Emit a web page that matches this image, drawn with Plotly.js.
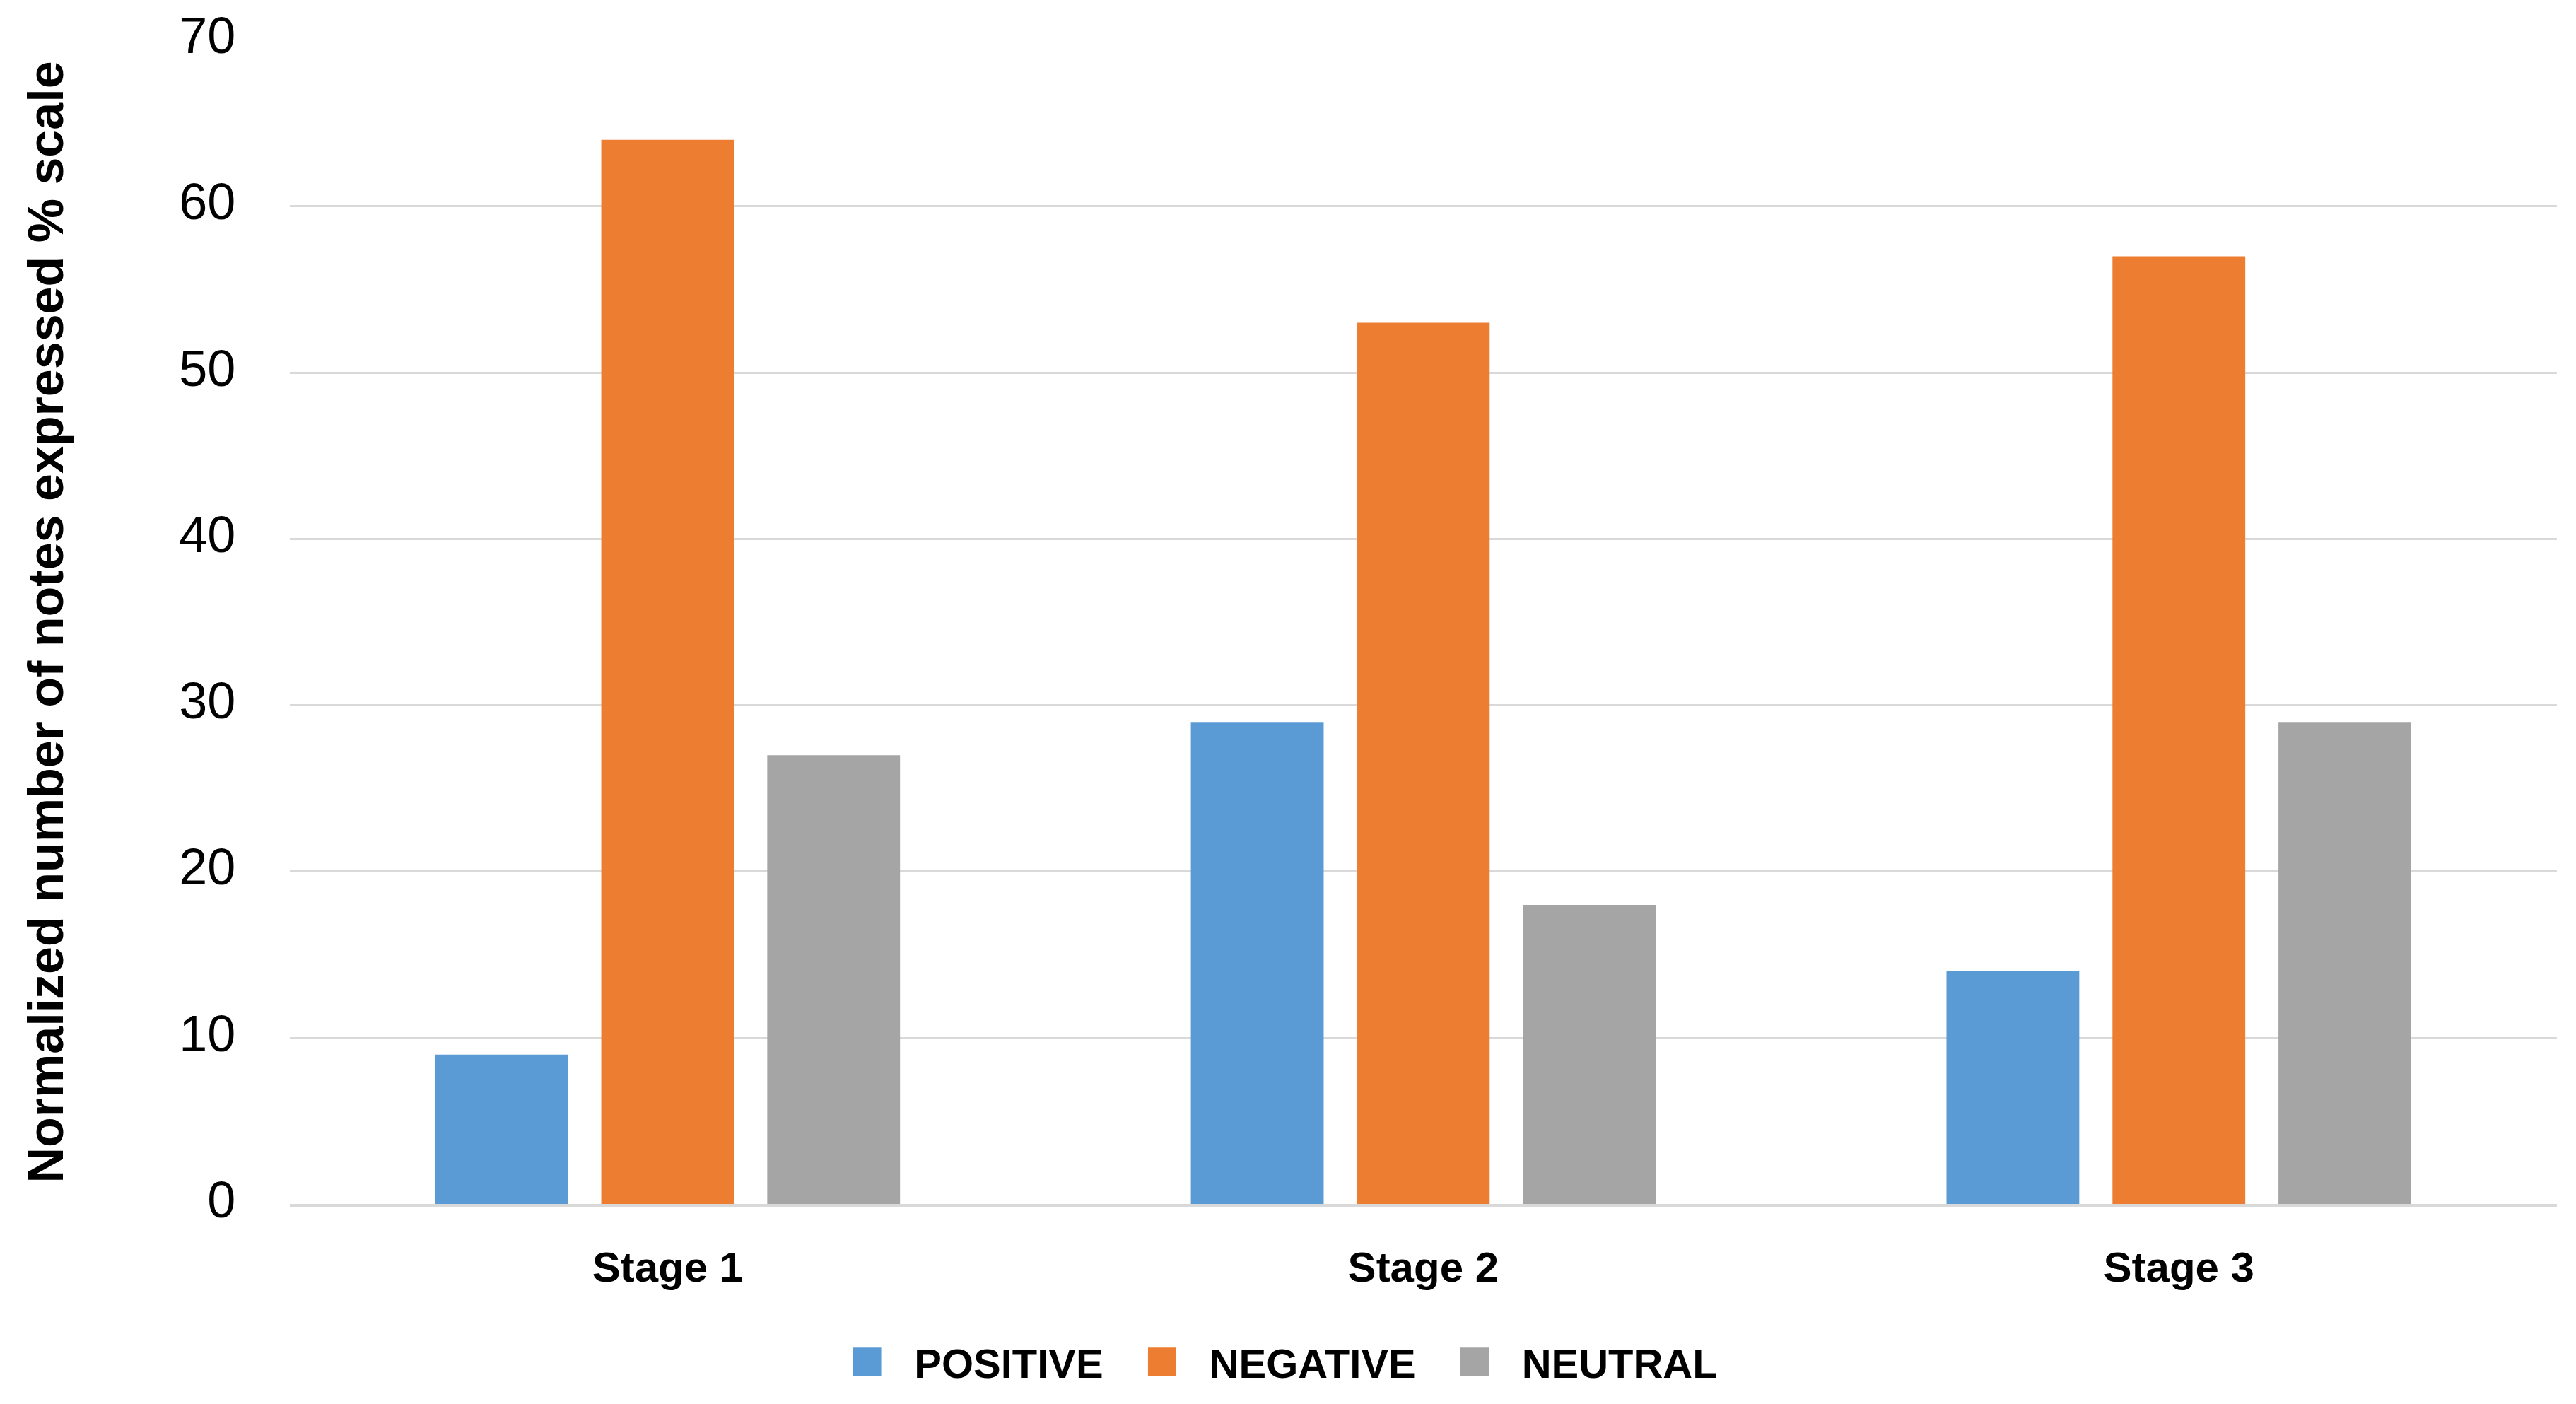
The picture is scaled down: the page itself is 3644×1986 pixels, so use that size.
<!DOCTYPE html>
<html><head><meta charset="utf-8">
<script src="https://cdn.plot.ly/plotly-3.0.1.min.js"></script>
<style>
html,body{margin:0;padding:0;background:#fff;overflow:hidden}
#wrap{width:3644px;height:1986px;overflow:hidden;position:relative}
#chart{transform-origin:0 0;position:absolute;left:0;top:0}
</style></head>
<body><div id="wrap"><div id="chart"></div></div>
<script>
// ---- data ----
const stages = ['Stage 1', 'Stage 2', 'Stage 3'];
const positive = [9, 29, 14];
const negative = [64, 53, 57];
const neutral = [27, 18, 29];
const seriesNames = ['POSITIVE', 'NEGATIVE', 'NEUTRAL'];
const yTicks = [0, 10, 20, 30, 40, 50, 60, 70];
const yTitle = 'Normalized number of notes expressed % scale';

// figure is laid out at 3/10 size and scaled up so the legend swatches match
const W = 3644, H = 1986, S = 10 / 3;
const p = v => v / S;
document.getElementById('chart').style.transform = 'scale(' + S + ')';

const colors = ['#5B9BD5', '#ED7D31', '#A5A5A5'];
const values = [positive, negative, neutral];

const traces = values.map((vals, i) => ({
  type: 'bar',
  name: seriesNames[i],
  x: stages,
  y: vals,
  marker: {color: colors[i], line: {width: 0}}
}));

const layout = {
  width: p(W), height: p(H),
  margin: {l: p(409), r: p(25), t: p(56), b: p(283), pad: 0, autoexpand: false},
  paper_bgcolor: '#ffffff', plot_bgcolor: '#ffffff',
  font: {family: 'Liberation Sans, Arial, sans-serif', color: '#000000'},
  barmode: 'group',
  bargap: 0.341,
  bargroupgap: 0.2,
  showlegend: true,
  legend: {
    orientation: 'h', x: 0.435, xanchor: 'center', y: -0.1358, yanchor: 'middle',
    font: {size: p(58), weight: 'bold', color: '#000'},
    bgcolor: 'rgba(0,0,0,0)'
  },
  xaxis: {
    type: 'category',
    showline: true, linecolor: '#D9D9D9', linewidth: p(4),
    showgrid: false, zeroline: false, ticks: '',
    tickfont: {size: p(60), weight: 'bold', color: '#000'},
    ticklabelstandoff: 10
  },
  yaxis: {
    range: [0, 70], tickmode: 'array', tickvals: yTicks, ticktext: yTicks.map(String),
    showgrid: true, gridcolor: '#D9D9D9', gridwidth: p(3),
    zeroline: false, showline: false,
    ticks: 'outside', ticklen: p(59), tickcolor: 'rgba(0,0,0,0)',
    ticklabelshift: -2,
    tickfont: {size: p(72), color: '#000'},
    title: {text: yTitle, font: {size: p(70), weight: 'bold', color: '#000'}, standoff: p(141)}
  }
};

Plotly.newPlot('chart', traces, layout, {displayModeBar: false, staticPlot: true});
</script>
</body></html>
